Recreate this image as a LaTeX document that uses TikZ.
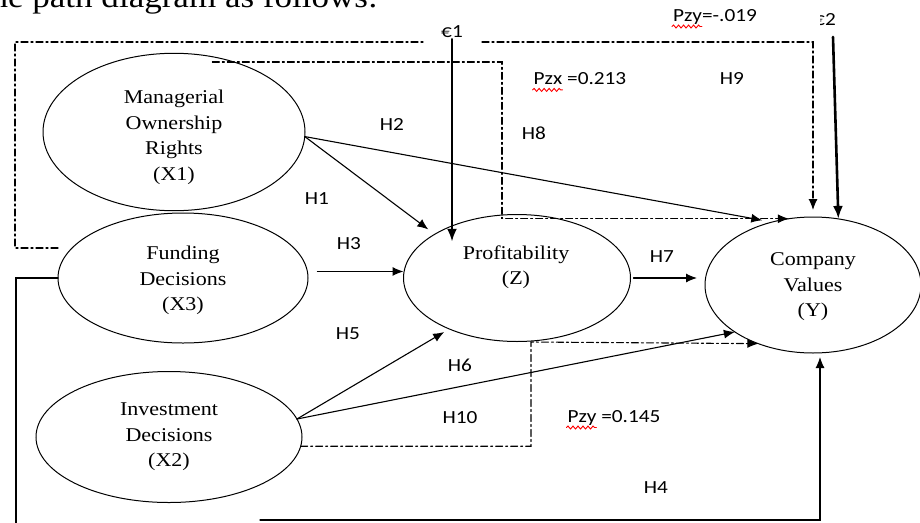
\documentclass[tikz,border=0pt]{standalone}
\usepackage{fontspec}
\setmainfont{Liberation Serif}[FakeStretch=1.13]
\newfontfamily\hfont{Carlito}[FakeStretch=1.15]
\usetikzlibrary{shapes.geometric,arrows.meta,decorations.pathmorphing}

\begin{document}
\begin{tikzpicture}[x=1pt,y=-1pt,line cap=round]
	\tikzstyle{var}=[ellipse,draw,line width=1pt,outer sep=0pt,align=center,font=\fontsize{19.5}{25.5}\selectfont];
	\tikzstyle{hyp}=[font=\hfont\fontsize{18.5}{22}\selectfont,inner sep=1pt];
	\tikzstyle{link}=[line width=1.1pt,-{Latex[length=11pt,width=9pt]}];
	\tikzstyle{ind}=[link,dash pattern=on 7pt off 3pt on 2pt off 3pt];
	\tikzstyle{err}=[line width=2.6pt,-{Latex[length=13pt,width=10pt]}];
	\tikzstyle{squig}=[red,line width=0.9pt,decorate,decoration={snake,amplitude=1.5pt,segment length=5pt}];

	\clip (0,0) rectangle (920,522);
	\node[anchor=base east,inner sep=0pt,font=\fontsize{31}{36}\selectfont] (intro) at (378,8) {the path diagram as follows:};

	% variables
	\node[var,minimum width=262pt,minimum height=156pt] (mor) at (174,132) {\rule{0pt}{24pt}Managerial\\Ownership\\Rights\\(X1)};
	\node[var,minimum width=250pt,minimum height=130pt] (fd) at (183,278) {\rule{0pt}{19pt}Funding\\Decisions\\(X3)};
	\node[var,minimum width=266pt,minimum height=131pt] (id) at (169,437) {Investment\\Decisions\\(X2)};
	\node[var,minimum width=227pt,minimum height=127pt] (prof) at (517,278) {};
	\node[align=center,font=\fontsize{19.5}{25.5}\selectfont] (proft) at (516,267) {Profitability\\(Z)};
	\node[var,minimum width=216pt,minimum height=136pt] (cv) at (813,285) {\rule{0pt}{17pt}Company\\Values\\(Y)};

	% direct paths
	\draw[link,shorten >=8pt] (mor.-2) -- (prof.152);
	\draw[link,shorten >=10pt] (mor.-2) -- (cv.123);
	\draw[link,shorten <=10pt] (fd.3) -- (fd.3 -| prof.west);
	\draw[link,shorten >=6pt] (id.8) -- (prof.217);
	\draw[link] (id.8) -- (cv.211);
	\draw[link,shorten <=3pt,shorten >=8pt] (prof.east) -- (prof.east -| cv.west);

	\coordinate (h4a) at (16,530);
	\coordinate (h4b) at (260,520);
	\coordinate (h4c) at (820,520);
	\draw[line width=1.1pt] (fd.west) -| (h4a);
	\draw[link,shorten >=4pt] (h4b) -- (h4c) -- (h4c |- cv.south);

	% indirect paths
	\coordinate (h9a) at (58,248);
	\draw[ind,-] (h9a) -- (15,248) |- (423,42);
	\draw[ind,shorten >=7pt] (482,42) -| (cv.north);
	\coordinate (h8a) at (502,62);
	\draw[ind] (h8a -| mor.63) -- (h8a) |- (cv.110);
	\coordinate (h10a) at (531,342);
	\draw[ind] (id.-4) -| (h10a) -- (cv.227);

	% errors
	\node[hyp] (eps1) at (452,32) {€1};
	\draw[err] (eps1.south) -- (eps1.south |- proft.north);
	\begin{scope}
		\clip (820,0) rectangle (850,40);
		\node[hyp] (eps2) at (825,20) {€2};
	\end{scope}
	\coordinate (e2) at (833,37);
	\draw[err] (e2) -- (cv.69);

	% labels
	\node[hyp] (h1) at (317,199) {H1};
	\node[hyp] (h2) at (392,124) {H2};
	\node[hyp] (h3) at (349,244) {H3};
	\node[hyp] (h4) at (656,488) {H4};
	\node[hyp] (h5) at (348,334) {H5};
	\node[hyp] (h6) at (460,365) {H6};
	\node[hyp] (h7) at (662,257) {H7};
	\node[hyp] (h8) at (534,133) {H8};
	\node[hyp] (h9) at (732,78) {H9};
	\node[hyp] (h10) at (460,418) {H10};
	\node[hyp] (pzx) at (580,79) {Pzx =0.213};
	\node[hyp] (pzy) at (715,17) {Pzy=-.019};
	\node[hyp] (pzyb) at (614,418) {Pzy =0.145};
	\draw[squig] ([yshift=-5pt]pzx.base west) -- ++(30,0);
	\draw[squig] ([yshift=-5pt]pzy.base west) -- ++(30,0);
	\draw[squig] ([yshift=-5pt]pzyb.base west) -- ++(30,0);
\end{tikzpicture}
\end{document}
